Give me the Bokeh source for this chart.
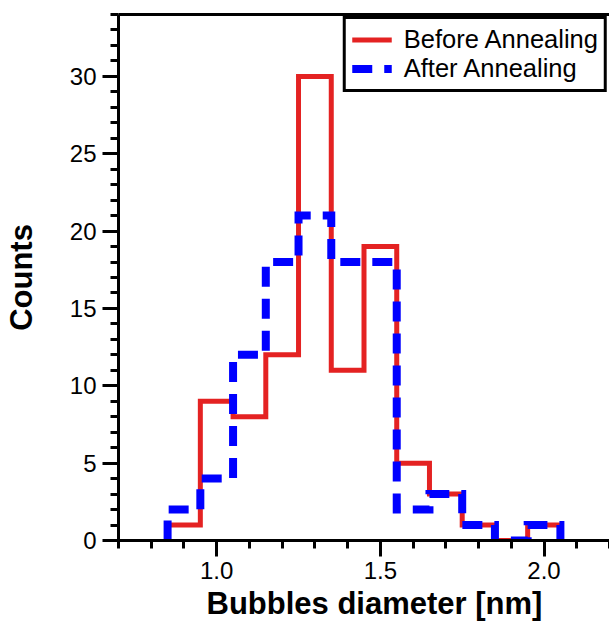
from bokeh.plotting import figure
from bokeh.models import (LinearAxis, SingleIntervalTicker, FixedTicker, Legend,
                          LegendItem, Range1d, NumeralTickFormatter, Title)
from bokeh.embed import file_html
from bokeh.resources import INLINE

# Data: bin centres (nm) and counts
bin_centers = [0.9, 1.0, 1.1, 1.2, 1.3, 1.4, 1.5, 1.6, 1.7, 1.8, 1.9, 2.0]
before_counts = [1, 9, 8, 12, 30, 11, 19, 5, 3, 1, 0, 1]
after_counts = [2, 4, 12, 18, 21, 18, 18, 2, 3, 1, 0, 1]
bin_width = 0.1
series_labels = ["Before Annealing", "After Annealing"]
x_label = "Bubbles diameter [nm]"
y_label = "Counts"

edges = [round(c - bin_width / 2, 3) for c in bin_centers] + [round(bin_centers[-1] + bin_width / 2, 3)]
xs = [edges[0]] + edges
y_before = [0] + before_counts + [0]
y_after = [0] + after_counts + [0]

FONT = "Liberation Sans"

p = figure(width=609, height=627, output_backend="svg", toolbar_location=None,
           x_range=Range1d(0.7, 2.2), y_range=Range1d(0, 34),
           min_border_left=117, min_border_right=0, min_border_top=14,
           min_border_bottom=87)
p.xgrid.visible = False
p.ygrid.visible = False
p.outline_line_color = None
p.background_fill_color = "white"
p.border_fill_color = "white"

r_before = p.step(xs, y_before, mode="after", line_color="#e42222", line_width=5,
                  line_join="miter")
r_after = p.step(xs, y_after, mode="after", line_color="#0000ff", line_width=8,
                 line_dash="20 12", line_join="miter")

# x axis
xa = p.xaxis[0]
xa.ticker = SingleIntervalTicker(interval=0.5, num_minor_ticks=5)
xa.formatter = NumeralTickFormatter(format="0.0")
# y axis
ya = p.yaxis[0]
ya.ticker = SingleIntervalTicker(interval=5, num_minor_ticks=5)
ya.axis_label = y_label

for ax in (xa, ya):
    ax.axis_line_width = 3
    ax.axis_line_color = "black"
    ax.major_tick_line_width = 3
    ax.minor_tick_line_width = 3
    ax.major_tick_in = 0
    ax.major_tick_out = 16
    ax.minor_tick_in = 0
    ax.minor_tick_out = 8
    ax.major_label_text_font = FONT
    ax.major_label_text_font_size = "24px"
    ax.major_label_text_color = "black"
    ax.axis_label_text_font = FONT
    ax.axis_label_text_font_size = "31px"
    ax.axis_label_text_font_style = "bold"
    ax.axis_label_text_color = "black"

xa.major_label_standoff = 5
ya.major_label_standoff = 6
ya.axis_label_standoff = 28

xt = Title(text=x_label, align="left", offset=88, text_font=FONT,
           text_font_size="31px", text_font_style="bold", text_color="black",
           standoff=4)
p.add_layout(xt, "below")

top = LinearAxis(ticker=FixedTicker(ticks=[]), axis_line_width=3,
                 axis_line_color="black", major_label_text_font_size="0px",
                 major_tick_line_color=None, minor_tick_line_color=None)
p.add_layout(top, "above")

legend = Legend(items=[LegendItem(label=series_labels[0], renderers=[r_before]),
                       LegendItem(label=series_labels[1], renderers=[r_after])],
                location="top_right", margin=2, padding=6, spacing=0,
                border_line_color="black", border_line_width=3,
                border_line_alpha=1.0, label_text_color="black",
                label_text_font=FONT, label_text_font_size="25.5px",
                label_standoff=12, glyph_width=40, glyph_height=27,
                label_height=27, background_fill_alpha=1.0)
p.add_layout(legend, "center")

open("out.html", "w").write(file_html(p, INLINE))
